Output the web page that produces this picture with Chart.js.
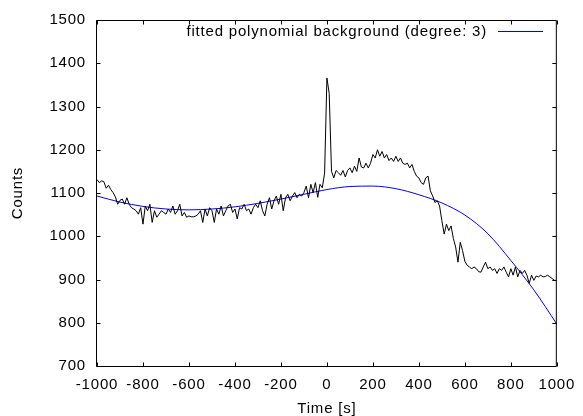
<!DOCTYPE html>
<html>
<head>
<meta charset="utf-8">
<script src="https://cdn.jsdelivr.net/npm/chart.js@4.4.0/dist/chart.umd.min.js"></script>
<style>
html, body { margin:0; padding:0; background:#fff; }
</style>
</head>
<body>
<canvas id="chart" width="583" height="416"></canvas>
<script>
// measured spectrum (time in s, counts)
const times = [
  -1000,-990,-980,-970,-960,-950,-940,-930,-920,-910,
  -900,-890,-880,-870,-860,-850,-840,-830,-820,-810,
  -800,-790,-780,-770,-760,-750,-740,-730,-720,-710,
  -700,-690,-680,-670,-660,-650,-640,-630,-620,-610,
  -600,-590,-580,-570,-560,-550,-540,-530,-520,-510,
  -500,-490,-480,-470,-460,-450,-440,-430,-420,-410,
  -400,-390,-380,-370,-360,-350,-340,-330,-320,-310,
  -300,-290,-280,-270,-260,-250,-240,-230,-220,-210,
  -200,-190,-180,-170,-160,-150,-140,-130,-120,-110,
  -100,-90,-80,-70,-60,-50,-40,-30,-20,-10,
  0,10,20,30,40,50,60,70,80,90,
  100,110,120,130,140,150,160,170,180,190,
  200,210,220,230,240,250,260,270,280,290,
  300,310,320,330,340,350,360,370,380,390,
  400,410,420,430,440,450,460,470,480,490,
  500,510,520,530,540,550,560,570,580,590,
  600,610,620,630,640,650,660,670,680,690,
  700,710,720,730,740,750,760,770,780,790,
  800,810,820,830,840,850,860,870,880,890,
  900,910,920,930,940,950,960,970,980,990,
  1000
];
const counts = [
  1131,1124,1128,1126,1111,1118,1108,1101,1091,1074,
  1083,1086,1074,1089,1074,1066,1063,1059,1051,1066,
  1028,1070,1059,1074,1032,1059,1044,1051,1059,1055,
  1051,1063,1055,1070,1051,1059,1074,1047,1055,1044,
  1047,1045,1045,1047,1051,1059,1032,1063,1047,1066,
  1059,1032,1063,1051,1070,1047,1059,1070,1074,1055,
  1063,1040,1066,1063,1074,1059,1063,1051,1066,1074,
  1066,1082,1059,1047,1074,1089,1063,1082,1093,1074,
  1097,1059,1089,1097,1082,1093,1101,1089,1097,1093,
  1101,1116,1089,1120,1101,1124,1090,1120,1112,1146,
  1366,1330,1150,1135,1152,1147,1141,1152,1137,1152,
  1158,1147,1162,1150,1181,1160,1158,1169,1158,1169,
  1189,1181,1200,1185,1196,1181,1189,1175,1181,1173,
  1185,1173,1181,1169,1166,1169,1158,1166,1150,1139,
  1135,1124,1120,1135,1139,1105,1093,1078,1082,1070,
  1036,1005,1028,1013,1024,995,975,940,986,967,
  942,933,929,925,929,925,918,917,929,940,
  925,929,921,925,914,925,921,929,917,906,
  925,910,929,906,921,914,921,910,891,910,
  898,908,906,910,906,907,910,906,902,898,
  898
];

// fitted background
const fitTimes = [-1000,-900,-800,-700,-600,-500,-400,-300,-200,-100,0,100,200,300,400,500,600,700,800,900,1000];
const fitCounts = [1093,1079,1069,1063,1061,1063,1068,1076,1086,1097,1108,1115,1116,1110,1096,1077,1049,1006,944,876,797];

const legendLabel = 'fitted polynomial background (degree: 3)';
const FONT = '"Liberation Sans", Arial, Helvetica, sans-serif';
const FONT_SIZE = 15;
const SPACING = '0.8px'; // gd-rendered text in the original is a bit loose

// gnuplot-like frame: box, inward ticks on all four sides, legend top right
const gnuFrame = {
  id: 'gnuFrame',
  beforeDraw(chart) { chart.ctx.letterSpacing = SPACING; },
  afterDraw(chart) {
    const { ctx, chartArea: a, scales: { x, y } } = chart;
    const L = a.left - 0.5, R = a.right - 0.5, T = a.top + 0.5, B = a.bottom + 0.5;
    ctx.save();
    ctx.strokeStyle = '#000';
    ctx.lineWidth = 1;
    ctx.beginPath();
    x.ticks.forEach(t => {
      const p = Math.round(x.getPixelForValue(t.value)) + 0.5;
      ctx.moveTo(p, B); ctx.lineTo(p, B - 4);
      ctx.moveTo(p, T); ctx.lineTo(p, T + 4);
    });
    y.ticks.forEach(t => {
      const p = Math.round(y.getPixelForValue(t.value)) + 0.5;
      ctx.moveTo(L, p); ctx.lineTo(L + 4, p);
      ctx.moveTo(R, p); ctx.lineTo(R - 4, p);
    });
    ctx.rect(L, T, R - L, B - T);
    ctx.stroke();

    ctx.font = FONT_SIZE + 'px ' + FONT;
    ctx.fillStyle = '#000';
    ctx.textAlign = 'right';
    ctx.textBaseline = 'middle';
    ctx.fillText(legendLabel, 487, 32);
    ctx.strokeStyle = '#0000ff';
    ctx.beginPath();
    ctx.moveTo(498, 31.5); ctx.lineTo(543, 31.5);
    ctx.stroke();
    ctx.restore();
  }
};

const tickFont = { family: FONT, size: FONT_SIZE };
const titleFont = { family: FONT, size: FONT_SIZE, lineHeight: 1 };

new Chart(document.getElementById('chart'), {
  type: 'line',
  data: {
    datasets: [
      {
        label: 'data',
        data: times.map((t, i) => ({ x: t, y: counts[i] })),
        borderColor: '#000', borderWidth: 1, pointRadius: 0, tension: 0, fill: false
      },
      {
        label: legendLabel,
        data: fitTimes.map((t, i) => ({ x: t, y: fitCounts[i] })),
        borderColor: '#0000ff', borderWidth: 1, pointRadius: 0, cubicInterpolationMode: 'monotone', fill: false
      }
    ]
  },
  options: {
    responsive: false,
    animation: false,
    events: [],
    layout: { padding: { top: 17, right: 20, left: 0, bottom: 0 } },
    plugins: { legend: { display: false }, tooltip: { enabled: false } },
    scales: {
      x: {
        type: 'linear', min: -1000, max: 1000,
        grid: { display: false, drawTicks: false },
        border: { display: false },
        ticks: { stepSize: 200, autoSkip: false, maxRotation: 0, padding: 9.5, color: '#000', font: tickFont, callback: v => String(v) },
        title: { display: true, text: 'Time [s]', color: '#000', padding: { top: 0, bottom: 0 }, font: titleFont },
        afterFit: s => { s.height = 50; }
      },
      y: {
        type: 'linear', min: 700, max: 1500,
        grid: { display: false, drawTicks: false },
        border: { display: false },
        ticks: { stepSize: 100, autoSkip: false, padding: 11, color: '#000', font: tickFont, callback: v => String(v) },
        title: { display: true, text: 'Counts', color: '#000', padding: { top: 10, bottom: 0 }, font: titleFont },
        afterFit: s => { s.width = 97; }
      }
    }
  },
  plugins: [gnuFrame]
});
</script>
</body>
</html>
